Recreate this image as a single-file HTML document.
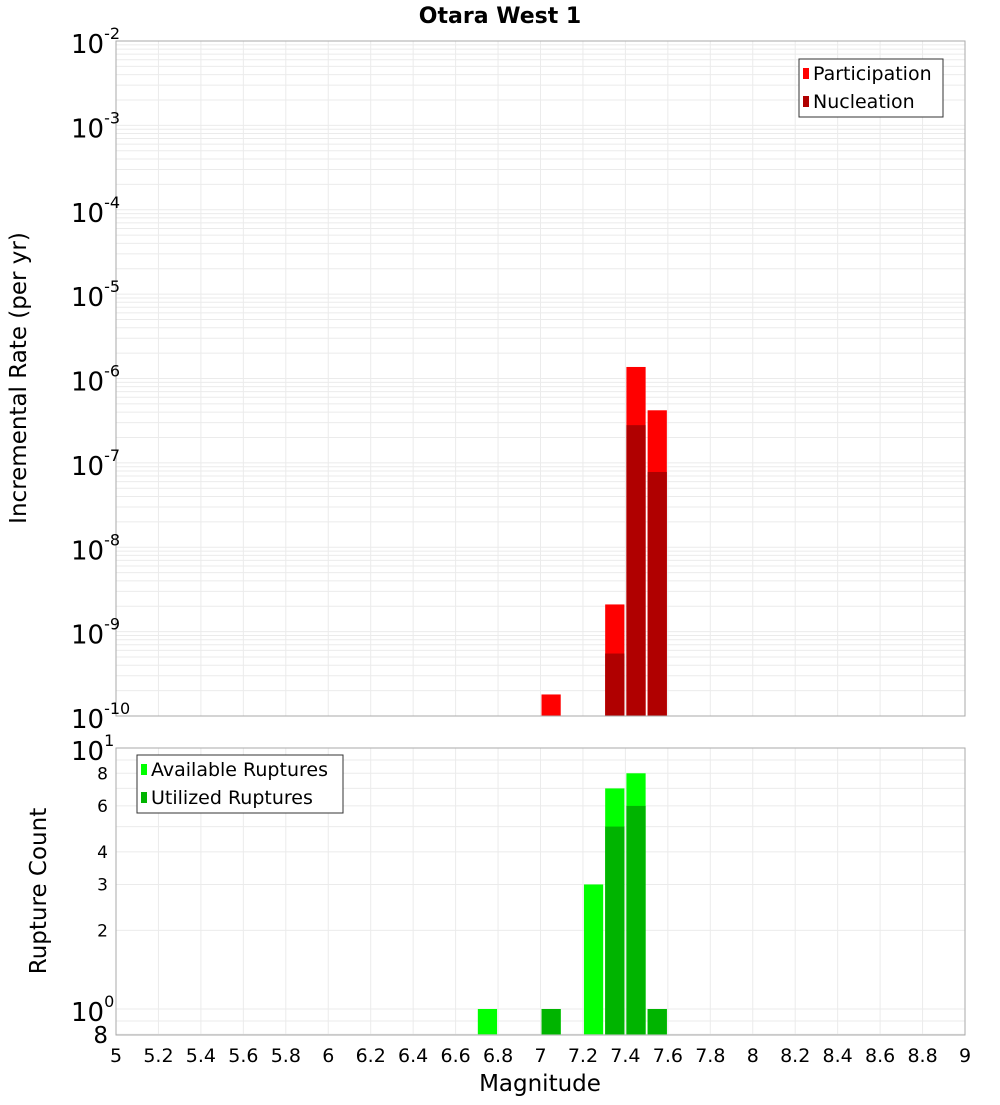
<!DOCTYPE html>
<html><head><meta charset="utf-8"><style>
body{margin:0;background:#fff;font-family:"Liberation Sans","DejaVu Sans",sans-serif}
svg text{font-family:"DejaVu Sans","Liberation Sans",sans-serif}
</style></head><body>
<svg id="chart" width="1000" height="1100" xmlns="http://www.w3.org/2000/svg">
<text x="500" y="23" text-anchor="middle" font-size="22" font-weight="bold">Otara West 1</text>
<text transform="translate(26,378) rotate(-90)" text-anchor="middle" font-size="23">Incremental Rate (per yr)</text>
<text transform="translate(46,891) rotate(-90)" text-anchor="middle" font-size="23">Rupture Count</text>
<text x="540" y="1091" text-anchor="middle" font-size="23">Magnitude</text>
<g id="g"></g>
</svg>
<script>
const mags=[6.75,7.05,7.25,7.35,7.45,7.55];
const participation=[0,1.8e-10,0,2.1e-9,1.37e-6,4.2e-7];
const nucleation=[0,0,0,5.5e-10,2.8e-7,7.8e-8];
const available=[1,1,3,7,8,1];
const utilized=[0,1,0,5,6,1];
const xTicks=[5,5.2,5.4,5.6,5.8,6,6.2,6.4,6.6,6.8,7,7.2,7.4,7.6,7.8,8,8.2,8.4,8.6,8.8,9];
const topExps=[-2,-3,-4,-5,-6,-7,-8,-9,-10];
const botTicks=[8,6,4,3,2];

const NS='http://www.w3.org/2000/svg';
const g=document.getElementById('g');
function el(t,a,txt){const e=document.createElementNS(NS,t);for(const k in a)e.setAttribute(k,a[k]);if(txt!==undefined)e.textContent=txt;g.appendChild(e);return e;}
const L=116,R=965;
const X=m=>L+(m-5)/4*(R-L);
const T0=41,T1=716;
const YT=v=>T0+(-2-Math.log10(v))/8*(T1-T0);
const B0=748,B1=1035;
const YB=v=>1009-Math.log10(v)*(1009-B0);

for(let d=-10;d<-2;d++)for(let k=1;k<10;k++){const y=YT(k*Math.pow(10,d));let l=el('line',{x1:L,x2:R,y1:y,y2:y,stroke:'#ebebeb'});}
for(const v of [0.8,0.9,1,2,3,4,5,6,7,8,9,10]){const y=YB(v);let l=el('line',{x1:L,x2:R,y1:y,y2:y,stroke:'#ebebeb'});}
for(const m of xTicks){const x=X(m);
let a=el('line',{x1:x,x2:x,y1:T0,y2:T1,stroke:'#ebebeb'});
let b=el('line',{x1:x,x2:x,y1:B0,y2:B1,stroke:'#ebebeb'});
let t=el('text',{x:x,y:1062,'text-anchor':'middle','font-size':19},String(m));}

const bw=X(5.1)-X(5);
function bar(m,v0,v1,Y,fill,name){const y=Y(v1),yb=Y(v0);let r=el('rect',{x:X(m)-bw/2+1,y:y,width:bw-2,height:Math.max(0,yb-y),fill:fill});}
mags.forEach((m,i)=>{
 if(participation[i]>0)bar(m,1e-10,participation[i],YT,'#ff0000','participation-bar');
 if(nucleation[i]>0)bar(m,1e-10,nucleation[i],YT,'#b00000','nucleation-bar');
 if(available[i]>0)bar(m,0.8,available[i],YB,'#00ff00','available-bar');
 if(utilized[i]>0)bar(m,0.8,utilized[i],YB,'#00b400','utilized-bar');
});
let f1=el('rect',{x:L,y:T0,width:R-L,height:T1-T0,fill:'none',stroke:'#aaa'});
let f2=el('rect',{x:L,y:B0,width:R-L,height:B1-B0,fill:'none',stroke:'#aaa'});
for(const e of topExps){const y=YT(Math.pow(10,e));
let t=el('text',{x:71,y:y+12,'font-size':26});
t.innerHTML='10<tspan dy="-14" font-size="16">'+e+'</tspan>';}
for(const v of botTicks){let t=el('text',{x:108,y:YB(v)+6,'text-anchor':'end','font-size':17},String(v));}
let t8=el('text',{x:108,y:1043,'text-anchor':'end','font-size':23},'8');
for(const [v,e] of [[10,1],[1,0]]){let t=el('text',{x:71,y:YB(v)+12,'font-size':26});t.innerHTML='10<tspan dy="-14" font-size="16">'+e+'</tspan>';}
function legend(x,y,w,items,name){let r=el('rect',{x:x,y:y,width:w,height:58,fill:'#fff',stroke:'#333'});
items.forEach((it,i)=>{let s=el('rect',{x:x+4,y:y+9+i*28,width:6,height:11,fill:it[1]});
let t=el('text',{x:x+14,y:y+21+i*28,'font-size':19},it[0]);});}
legend(799,59,144,[['Participation','#ff0000'],['Nucleation','#b00000']],'top-legend');
legend(137,755,206,[['Available Ruptures','#00ff00'],['Utilized Ruptures','#00b400']],'bottom-legend');
</script>
</body></html>
